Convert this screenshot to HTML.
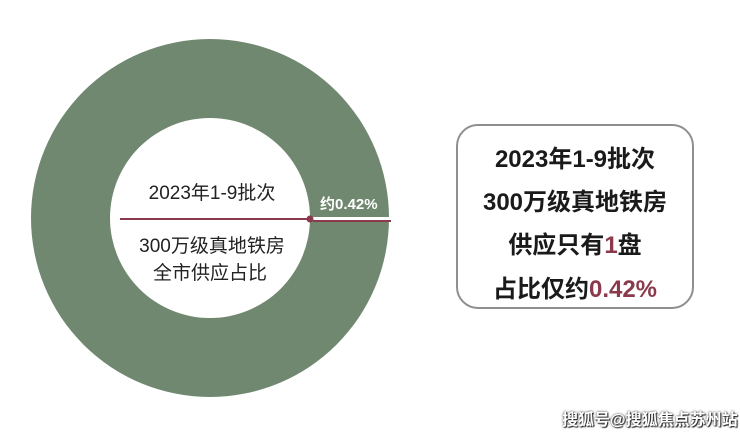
<!DOCTYPE html>
<html><head><meta charset="utf-8"><style>
body{margin:0;width:740px;height:434px;background:#fff;overflow:hidden;font-family:"Liberation Sans","Noto Sans CJK SC",sans-serif;position:relative}
.box{position:absolute;left:456px;top:124px;width:234px;height:181px;border:2px solid #8f8f8f;border-radius:22px;}
.bl{position:absolute;left:456px;width:238px;text-align:center;font-weight:bold;font-size:24px;color:#1a1a1a;line-height:28px}
.r{color:#8a3a4c}
.wm{position:absolute;left:562px;top:406px;font-size:16px;font-weight:bold;color:#fff;text-shadow:0 0 2px #222,1px 1px 1px #222;letter-spacing:0px}
</style></head><body>
<svg width="740" height="434" style="position:absolute;left:0;top:0">
<circle cx="210" cy="218" r="179" fill="#718870"/>
<circle cx="210" cy="218" r="100" fill="#fff"/>
<rect x="309" y="217" width="82" height="4" fill="#fff"/>
<line x1="313" y1="221" x2="391" y2="221" stroke="#8a3a4c" stroke-width="2"/>
<line x1="120" y1="219" x2="310" y2="219" stroke="#8a3a4c" stroke-width="2"/>
<circle cx="310" cy="219" r="3.5" fill="#8a3a4c"/>
<text x="212" y="199" text-anchor="middle" font-size="19" fill="#222" font-family="Liberation Sans,Noto Sans CJK SC,sans-serif">2023年1-9批次</text>
<text x="212" y="252" text-anchor="middle" font-size="19" fill="#222" font-family="Liberation Sans,Noto Sans CJK SC,sans-serif">300万级真地铁房</text>
<text x="210" y="279" text-anchor="middle" font-size="19" fill="#222" font-family="Liberation Sans,Noto Sans CJK SC,sans-serif">全市供应占比</text>
<text x="320" y="209" font-size="15" font-weight="bold" fill="#fff" font-family="Liberation Sans,Noto Sans CJK SC,sans-serif">约0.42%</text>
</svg>
<div class="box"></div>
<div class="bl" style="top:146px">2023年1-9批次</div>
<div class="bl" style="top:189px">300万级真地铁房</div>
<div class="bl" style="top:232px">供应只有<span class="r">1</span>盘</div>
<div class="bl" style="top:276px">占比仅约<span class="r">0.42%</span></div>
<div class="wm">搜狐号@搜狐焦点苏州站</div>
</body></html>
